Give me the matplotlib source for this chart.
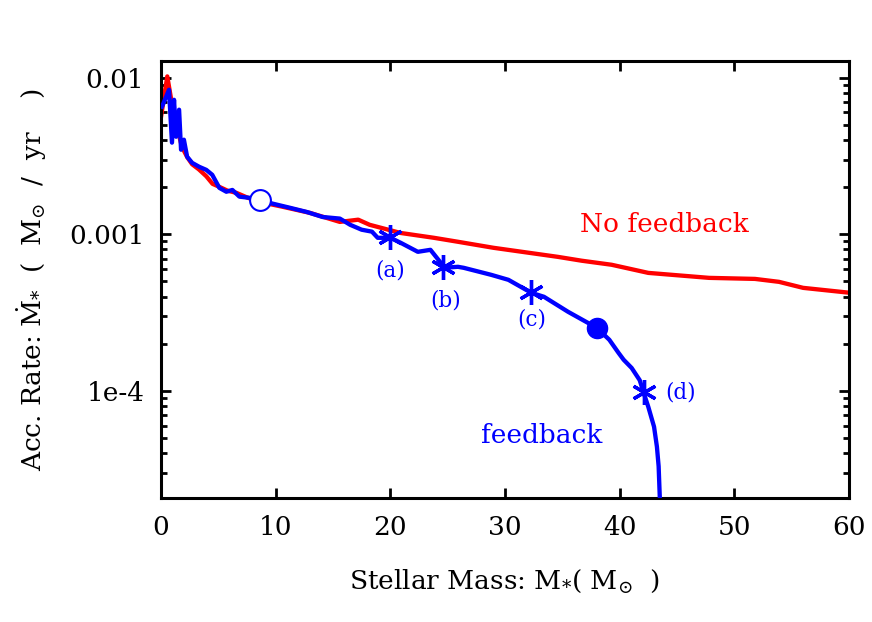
import numpy as np
import matplotlib.pyplot as plt

# No-feedback run: stellar mass (Msun) vs accretion rate (Msun/yr)
mass_nofb = [0.0, 0.55, 0.9, 1.14, 1.5, 1.84, 2.3, 2.72, 3.3, 3.95, 4.5, 5.09, 5.8,
             6.58, 7.5, 8.6, 10.6, 13.0, 15.6, 17.2, 18.2, 20.9, 23.8, 25.9,
             29.0, 34.6, 36.7, 39.3, 42.5, 47.8, 51.8, 53.9, 56.0, 60.1]
rate_nofb = [0.0056, 0.0102, 0.0072, 0.0062, 0.0045, 0.0036, 0.0031, 0.0028, 0.0026,
             0.00235, 0.0021, 0.00201, 0.0019, 0.00184, 0.00172, 0.00161, 0.0015,
             0.00137, 0.0012, 0.00124, 0.00115, 0.00102, 0.00095, 0.000896,
             0.00082, 0.000718, 0.000678, 0.000639, 0.000567, 0.000527, 0.000519,
             0.000497, 0.000455, 0.000423]

# Feedback run
mass_fb = [0.09, 0.7, 0.96, 1.14, 1.32, 1.58, 1.75, 2.0, 2.28, 2.72, 3.33, 3.95, 4.47,
           5.09, 5.7, 6.23, 6.84, 7.72, 8.6, 9.74, 11.2, 12.7, 14.1, 15.6, 16.5,
           17.5, 18.4, 18.9, 20.0, 20.9, 22.4, 23.5, 24.4, 24.6, 25.9, 26.4, 28.8,
           30.3, 32.3, 33.4, 35.5, 38.0, 39.1, 39.9, 40.35, 41.05, 41.75, 42.1,
           42.5, 43.0, 43.25, 43.4, 43.5, 43.55]
rate_fb = [0.00653, 0.00838, 0.00385, 0.00723, 0.0042, 0.00625, 0.00347, 0.00402,
           0.00313, 0.00286, 0.0027, 0.00258, 0.0024, 0.00198, 0.00187, 0.00192,
           0.00174, 0.00171, 0.00166, 0.00157, 0.00148, 0.00139, 0.00129, 0.00126,
           0.00115, 0.00107, 0.00104, 0.00095, 0.00095, 0.000883, 0.000773,
           0.000796, 0.000658, 0.000611, 0.00062, 0.000611, 0.000551, 0.000512,
           0.000423, 0.000399, 0.00032, 0.000253, 0.000212, 0.000175, 0.000158,
           0.00014, 0.000117, 9.7e-5, 7.9e-5, 5.9e-5, 4.4e-5, 3.3e-5, 2.1e-5, 1.5e-5]

# Snapshot markers (a)-(d), open/filled circles
snap_mass = [20.0, 24.6, 32.3, 42.1]
snap_rate = [0.00096, 0.00062, 0.000428, 9.8e-5]
snap_names = ['(a)', '(b)', '(c)', '(d)']
open_pt = (8.6, 0.00166)
filled_pt = (38.0, 0.000253)

plt.rcParams['font.family'] = ['DejaVu Serif']
plt.rcParams['mathtext.fontset'] = 'dejavuserif'

fig = plt.figure(figsize=(8.72, 6.22), dpi=100)
ax = fig.add_axes([0.1846, 0.1994, 0.789, 0.7026])

ax.plot(mass_nofb, rate_nofb, color='red', lw=3.1, zorder=2)
ax.plot(mass_fb, rate_fb, color='blue', lw=3.1, zorder=3)
ax.plot(snap_mass, snap_rate, ls='none', marker=(6, 2, 0), ms=18, mew=2.4,
        color='blue', zorder=4)
ax.plot(*open_pt, marker='o', ms=15, mfc='white', mec='blue', mew=1.5, zorder=5)
ax.plot(*filled_pt, marker='o', ms=14.5, color='blue', zorder=5)

# label offsets below / beside each star
label_pos = [(20.0, 5.9e-4), (24.8, 3.8e-4), (32.3, 2.84e-4), (45.3, 9.7e-5)]
for (lx, ly), name in zip(label_pos, snap_names):
    ax.text(lx, ly, name, color='blue', fontsize=15.5, ha='center', va='center')

ax.text(43.9, 1.15e-3, 'No feedback', color='red', fontsize=19, ha='center', va='center')
ax.text(33.2, 5.2e-5, 'feedback', color='blue', fontsize=19, ha='center', va='center')

ax.set_yscale('log')
ax.set_xlim(0, 60)
ax.set_ylim(2.07e-5, 0.0128)
ax.set_xticks([0, 10, 20, 30, 40, 50, 60])
ax.set_yticks([1e-4, 1e-3, 1e-2])
ax.set_yticklabels(['1e-4', '0.001', '0.01'])

ax.tick_params(which='both', direction='in', top=True, right=True, width=2,
               labelsize=19, pad=12)
ax.tick_params(which='major', length=7)
ax.tick_params(which='minor', length=4)
for sp in ax.spines.values():
    sp.set_linewidth(2.2)

ax.set_xlabel(r'Stellar Mass: M$_{*}$( M$_{\odot}$  )', fontsize=19, labelpad=20)
ax.set_ylabel(r'Acc. Rate: $\dot{\rm M}_{*}$  (  M$_{\odot}$  /  yr    )', fontsize=19,
              labelpad=14)

fig.savefig('out.png', dpi=100)
